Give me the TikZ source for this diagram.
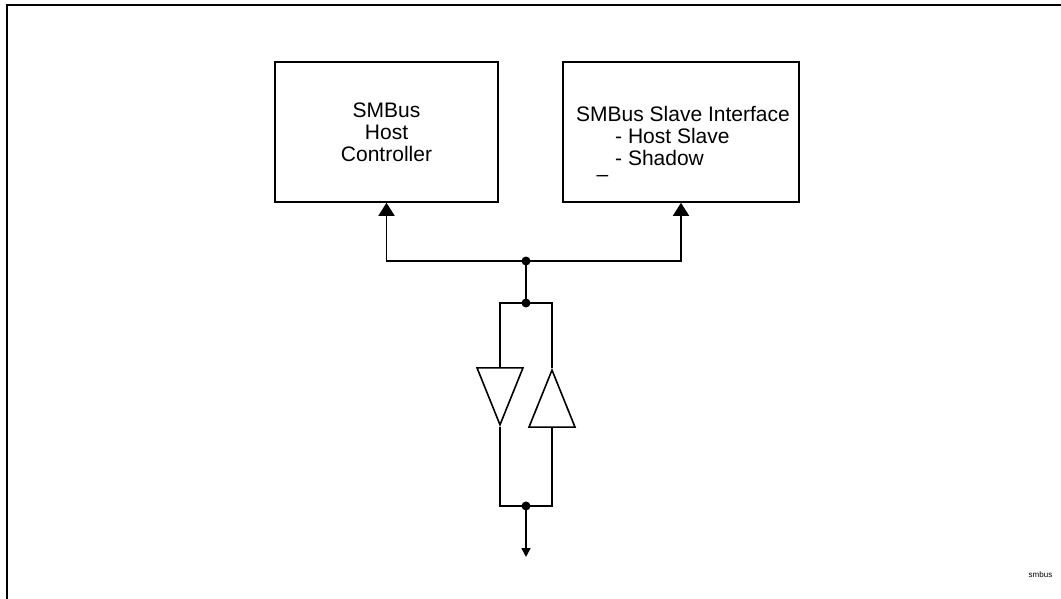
\documentclass[tikz,border=0pt]{standalone}
\usepackage{fontspec}
\setmainfont{Liberation Sans}
\usetikzlibrary{shapes.geometric, arrows.meta, positioning, calc}

\begin{document}
\begin{tikzpicture}[x=1pt, y=-1pt]
                \tikzstyle{box} = [rectangle, draw, line width=1.6pt, minimum width=223pt, minimum height=140pt, inner sep=0pt, font=\fontsize{21}{22}\selectfont]
                \tikzstyle{label} = [inner sep=0pt, font=\fontsize{21}{22}\selectfont]
                \tikzstyle{wire} = [line width=1.6pt]
                \tikzstyle{buffer} = [isosceles triangle, isosceles triangle stretches, draw, line width=1.6pt, inner sep=0pt, minimum width=46pt, minimum height=57pt]
                \tikzstyle{dot} = [circle, fill, inner sep=0pt, minimum size=9pt]
                \tikzstyle{uparrow} = [-{Triangle[width=16pt, length=13pt]}]

                \useasboundingbox (0,0) rectangle (1061,599);
                \draw[line width=2pt] (7,620) -- (7,5) -- (1080,5);

                \node[box, align=center] (host) at (386.5,132) {SMBus\\Host\\Controller};
                \node[box, minimum width=236pt] (slave) at (681,132) {};
                \node[label, align=left, anchor=north west] (slavetext) at (576,106.5) {SMBus Slave Interface\\\hspace{39pt}- Host Slave\\\hspace{39pt}- Shadow};
                \node[label, anchor=base] (stray) at (602.5,182) {–};

                \node[dot] (bus) at (526,261) {};
                \node[dot] (split) at (526,303) {};
                \node[buffer, shape border rotate=270, anchor=north] (drvdown) at (500,367) {};
                \node[buffer, shape border rotate=90, anchor=apex] (drvup) at (552,368) {};
                \node[dot] (merge) at (526,506) {};
                \coordinate (out) at (526,557);

                \draw[wire, uparrow] (bus.center) -| (host.south);
                \draw[wire, uparrow] (bus.center) -| (slave.south);
                \draw[line width=2.4pt] (bus.center) -- (split.center);
                \draw[wire] (split.center) -| (drvdown.north);
                \draw[wire] (split.center) -| (drvup.apex);
                \draw[wire] (drvdown.apex) |- (merge.center);
                \draw[wire] (drvup.south) |- (merge.center);
                \draw[wire, -{Triangle[width=9pt, length=9pt]}] (merge.center) -- (out);

                \node[font=\fontsize{8}{9}\selectfont] (tag) at (1040.5,575) {smbus};
            \end{tikzpicture}
\end{document}
